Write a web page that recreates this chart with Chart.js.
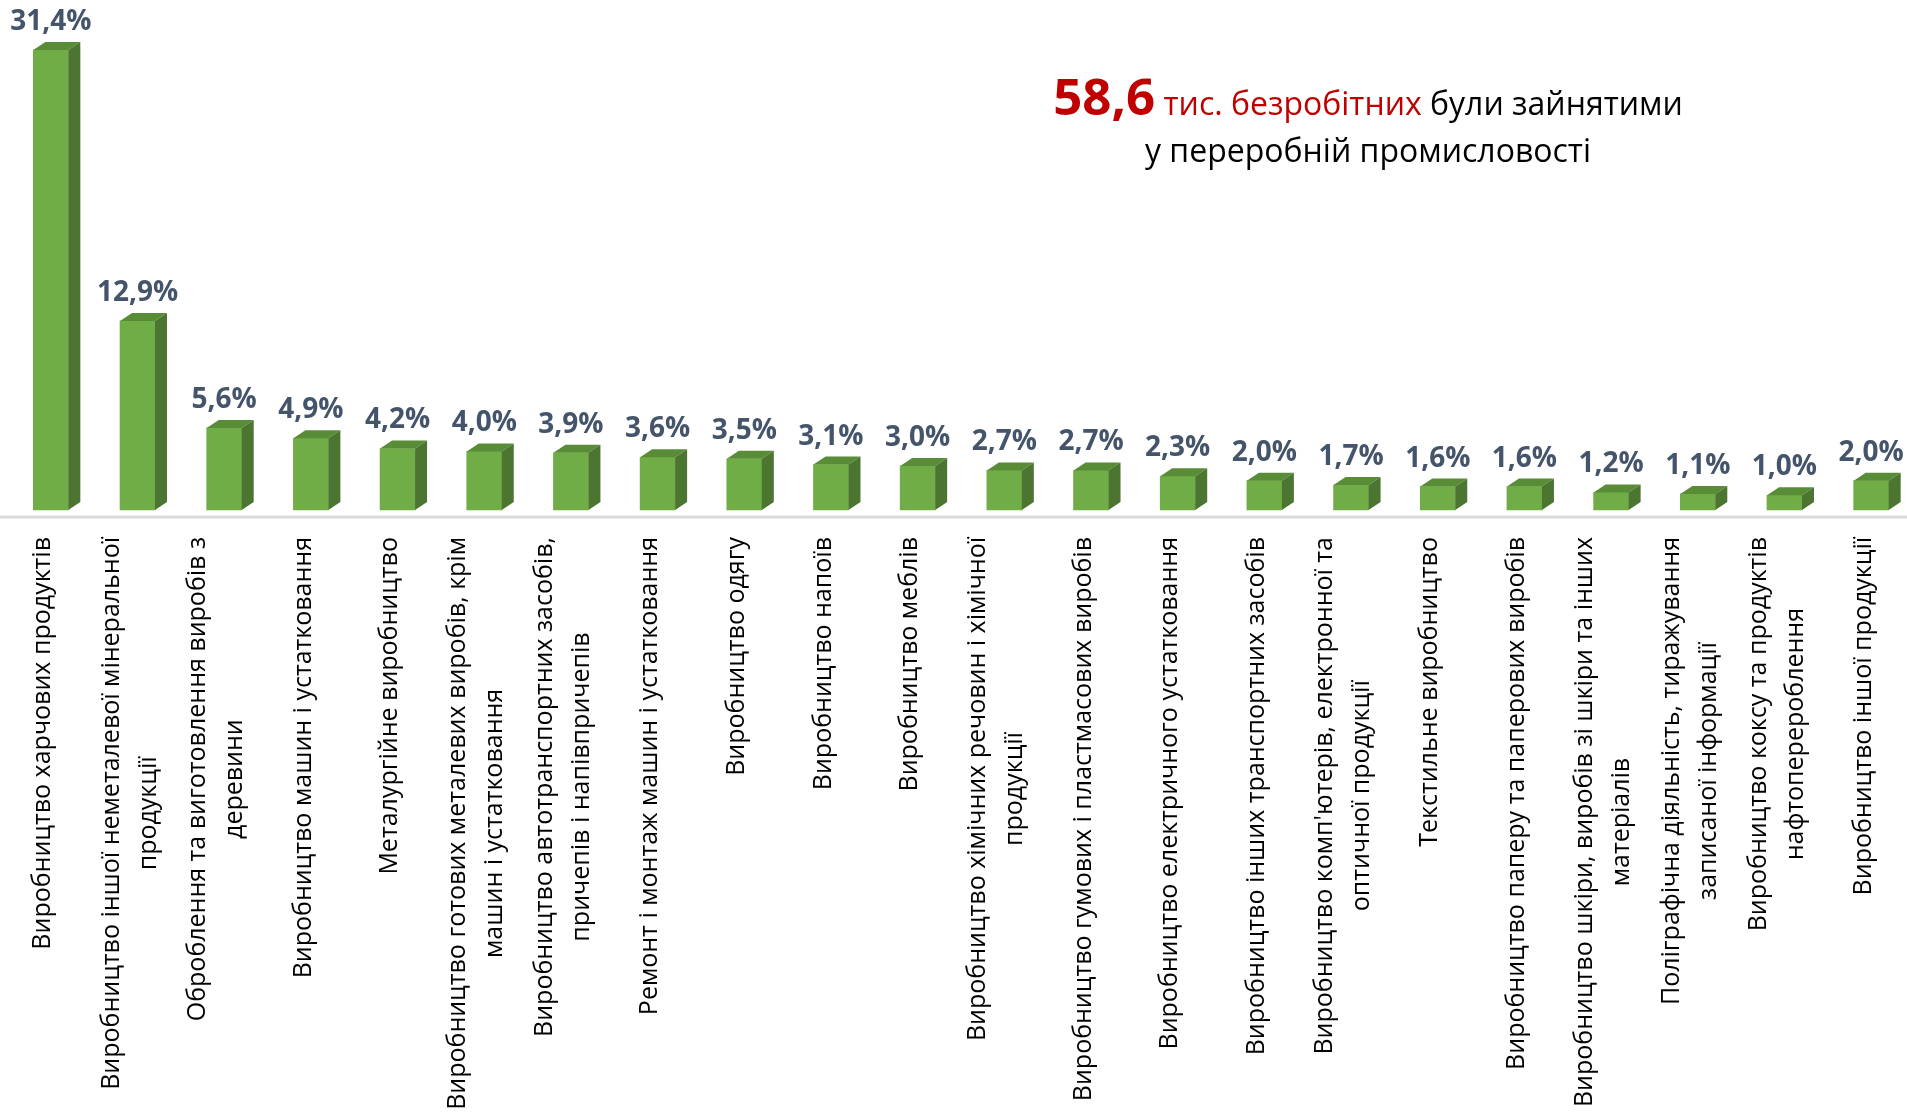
<!DOCTYPE html>
<html lang="uk">
<head>
<meta charset="utf-8">
<title>Безробітні, зайняті у переробній промисловості</title>
<script src="https://cdn.jsdelivr.net/npm/chart.js@4.4.1/dist/chart.umd.min.js"></script>
<style>
  html, body { margin: 0; padding: 0; background: #fff; }
  #wrap { position: relative; width: 1907px; height: 1115px; }
  .title {
    position: absolute; left: 968px; width: 800px; text-align: center;
    font-family: "Open Sans", sans-serif; font-size: 32px; line-height: 47px;
    color: #000; white-space: nowrap;
  }
  .title .big { font-size: 51px; font-weight: bold; color: #c00000; line-height: 0; }
  .title .red { color: #c00000; }
</style>
</head>
<body>
<div id="wrap">
  <canvas id="chart"></canvas>
  <div class="title" style="top:79px"><span class="big">58,6</span> <span class="red">тис. безробітних</span> були зайнятими</div>
  <div class="title" style="top:126px">у переробній промисловості</div>
</div>
<script>
/* ---------- дані ---------- */
const categories = [
  ["Виробництво харчових продуктів"],
  ["Виробництво іншої неметалевої мінеральної", "продукції"],
  ["Оброблення та виготовлення виробів з", "деревини"],
  ["Виробництво машин і устатковання"],
  ["Металургійне виробництво"],
  ["Виробництво готових металевих виробів, крім", "машин і устатковання"],
  ["Виробництво автотранспортних засобів,", "причепів і напівпричепів"],
  ["Ремонт і монтаж машин і устатковання"],
  ["Виробництво одягу"],
  ["Виробництво напоїв"],
  ["Виробництво меблів"],
  ["Виробництво хімічних речовин і хімічної", "продукції"],
  ["Виробництво гумових і пластмасових виробів"],
  ["Виробництво електричного устатковання"],
  ["Виробництво інших транспортних засобів"],
  ["Виробництво комп'ютерів, електронної та", "оптичної продукції"],
  ["Текстильне виробництво"],
  ["Виробництво паперу та паперових виробів"],
  ["Виробництво шкіри, виробів зі шкіри та інших", "матеріалів"],
  ["Поліграфічна діяльність, тиражування", "записаної інформації"],
  ["Виробництво коксу та продуктів", "нафтоперероблення"],
  ["Виробництво іншої продукції"]
];
const shares = [31.4, 12.9, 5.6, 4.9, 4.2, 4.0, 3.9, 3.6, 3.5, 3.1, 3.0,
                2.7, 2.7, 2.3, 2.0, 1.7, 1.6, 1.6, 1.2, 1.1, 1.0, 2.0];

/* ---------- стиль ---------- */
const FRONT = "#70ad47", TOP = "#588c37", SIDE = "#4b7530";
const SHIFT = 7.5;          // зсув лицьової грані відносно центру категорії
const DX = 12, DY = 8;      // глибина 3D
const LINE_H = 37;

const fmt = v => v.toFixed(1).replace(".", ",") + "%";

/* ---------- плагін 3D-стовпців і підписів ---------- */
const bar3d = {
  id: "bar3d",
  beforeDatasetsDraw(chart) {
    chart.ctx.save();
    chart.ctx.translate(SHIFT, 0);
  },
  afterDatasetsDraw(chart) {
    const ctx = chart.ctx;
    chart.getDatasetMeta(0).data.forEach((bar, i) => {
      const p = bar.getProps(["x", "y", "base", "width"], true);
      const l = p.x - p.width / 2, r = p.x + p.width / 2;
      // верхня грань
      ctx.fillStyle = TOP;
      ctx.beginPath();
      ctx.moveTo(l, p.y); ctx.lineTo(l + DX, p.y - DY);
      ctx.lineTo(r + DX, p.y - DY); ctx.lineTo(r, p.y);
      ctx.closePath(); ctx.fill();
      // бічна грань
      ctx.fillStyle = SIDE;
      ctx.beginPath();
      ctx.moveTo(r, p.y); ctx.lineTo(r + DX, p.y - DY);
      ctx.lineTo(r + DX, p.base - DY); ctx.lineTo(r, p.base);
      ctx.closePath(); ctx.fill();
      // значення
      ctx.fillStyle = "#44546a";
      ctx.font = 'bold 28px "Open Sans"';
      ctx.textAlign = "center";
      ctx.textBaseline = "alphabetic";
      ctx.fillText(fmt(shares[i]), p.x, p.y - 20);
    });
    ctx.restore();

    // вісь
    const { left, right, bottom } = chart.chartArea;
    ctx.save();
    ctx.strokeStyle = "#d9dbde";
    ctx.lineWidth = 3;
    ctx.beginPath(); ctx.moveTo(left, bottom); ctx.lineTo(right, bottom); ctx.stroke();

    // підписи категорій
    const xs = chart.scales.x;
    ctx.font = '25px "Open Sans"';
    ctx.fillStyle = "#000";
    ctx.textAlign = "center";
    ctx.textBaseline = "middle";
    categories.forEach((lines, i) => {
      const cx = xs.getPixelForValue(i);
      const w = Math.max(...lines.map(s => ctx.measureText(s).width));
      ctx.save();
      ctx.translate(cx, bottom + 20);
      ctx.rotate(-Math.PI / 2);
      lines.forEach((s, k) => ctx.fillText(s, -w / 2, (k - (lines.length - 1) / 2) * LINE_H));
      ctx.restore();
    });
    ctx.restore();
  }
};

/* ---------- графік ---------- */
function draw() {
  new Chart(document.getElementById("chart"), {
    type: "bar",
    data: {
      labels: categories.map(l => l.join(" ")),
      datasets: [{ data: shares, backgroundColor: FRONT, borderWidth: 0, barThickness: 35 }]
    },
    options: {
      responsive: true, maintainAspectRatio: false, animation: false,
      layout: { padding: { left: 0, right: 0, top: 0, bottom: 598 } },
      plugins: { legend: { display: false }, tooltip: { enabled: false } },
      scales: {
        x: { display: false },
        y: { display: false, min: -0.478, max: 34.81 }
      }
    },
    plugins: [bar3d]
  });
}

Promise.all([
  document.fonts.load('25px "Open Sans"'),
  document.fonts.load('bold 28px "Open Sans"')
]).then(draw, draw);
</script>
</body>
</html>
